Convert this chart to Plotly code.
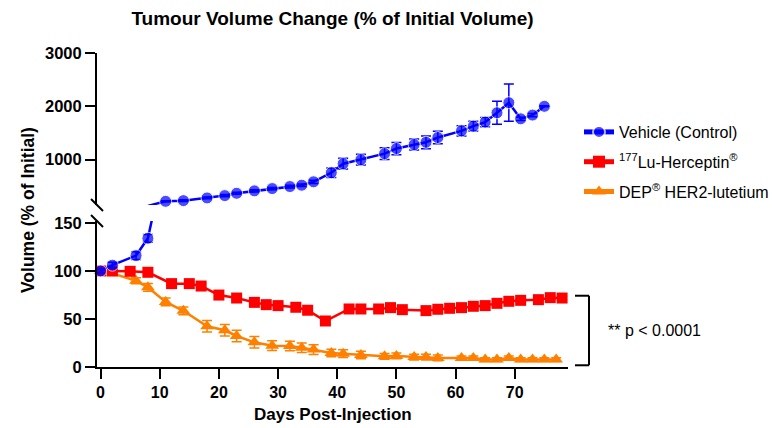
import plotly.graph_objects as go

# ---------------- data ----------------
days_vehicle = [0, 2, 6, 8, 11, 14, 18, 21, 23, 26, 29, 32, 34, 36, 39, 41, 44, 48, 50,
                53, 55, 57, 61, 63, 65, 67, 69, 71, 73, 75]
vehicle = [100, 106, 116, 134, 219, 232, 283, 326, 370, 415, 458, 496, 521, 585, 755,
           925, 1000, 1113, 1208, 1283, 1326, 1415, 1540, 1628, 1704, 1879, 2068, 1766,
           1836, 2000]
vehicle_err = [2, 3, 4, 4, 10, 15, 15, 20, 20, 20, 20, 25, 25, 30, 90, 100, 100, 110,
               115, 104, 120, 116, 95, 91, 88, 215, 350, 30, 30, 10]

days_lu = [0, 2, 5, 8, 12, 15, 17, 20, 23, 26, 28, 30, 33, 35, 38, 42, 44, 47, 49, 51,
           55, 57, 59, 61, 63, 65, 67, 69, 71, 74, 76, 78]
lu_herceptin = [100, 100, 99.6, 98.6, 86.8, 86.8, 84.3, 74.9, 71.8, 67.3, 64.9, 63.9,
                62.2, 59.1, 47.9, 60.4, 60.4, 60.4, 61.8, 59.7, 58.7, 60.1, 61.1, 61.8,
                63.2, 63.9, 66.3, 68.4, 69.4, 70.1, 72.2, 71.8]
lu_err = [0, 2, 2, 2, 2, 2, 2, 2, 2, 2, 2, 2, 2, 2, 3, 2, 2, 2, 2, 2, 2, 2, 2, 2, 2, 2,
          2, 2, 2, 2, 2, 2]

days_dep = [0, 2, 6, 8, 11, 14, 18, 21, 23, 26, 29, 32, 34, 36, 39, 41, 44, 48, 50, 53,
            55, 57, 61, 63, 65, 67, 69, 71, 73, 75, 77]
dep_her2 = [100, 97.5, 89.8, 82.9, 67.8, 58.5, 42.4, 38.2, 32.3, 25.7, 22.2, 21.9, 20.1,
            18.1, 14.6, 13.9, 12.5, 11.1, 11.5, 10.4, 10.4, 9.4, 9.4, 9.4, 7.7, 7.7, 9.4,
            7.7, 7.7, 7.7, 7.7]
dep_err = [0, 2, 3, 4, 4, 4, 6, 6, 6, 6, 5, 5, 5, 5, 4, 4, 4, 3, 3, 3, 3, 3, 2, 2, 2, 2,
           2, 2, 2, 2, 2]

series_names = ["Vehicle (Control)",
                "<sup>177</sup>Lu-Herceptin<sup>®</sup>",
                "DEP<sup>®</sup> HER2-lutetium"]
x_ticks = [0, 10, 20, 30, 40, 50, 60, 70]
lower_ticks = [0, 50, 100, 150]
upper_ticks = [1000, 2000, 3000]
x_range = [-0.6, 79]
lower_range = [0, 152]
upper_range = [150, 3000]
break_value = 150
p_text = "** p < 0.0001"

# ---------------- styling / geometry ----------------
BLUE, RED, ORANGE = "#0000FF", "#FF0000", "#FF8000"
FONT = "Liberation Sans, Arial, sans-serif"
W, H = 772, 428
L, R, T, B = 97, 204, 53, 61
PW, PH = W - L - R, H - T - B
lower_dom = [0, (H - B - 221) / PH]
upper_dom = [(H - B - 205) / PH, 1]

fig = go.Figure()

def err_style(color, arr):
    return dict(type="data", array=arr, visible=True, color=color, thickness=1.5, width=5)

# DEP HER2-lutetium (drawn first, under the others)
fig.add_trace(go.Scatter(
    x=days_dep, y=dep_her2, mode="lines+markers", name=series_names[2],
    line=dict(color=ORANGE, width=2.5),
    marker=dict(symbol="triangle-up", size=12, color=ORANGE),
    error_y=err_style(ORANGE, dep_err), cliponaxis=False,
    xaxis="x", yaxis="y", legendrank=3, legendgroup="c"))

# 177Lu-Herceptin
fig.add_trace(go.Scatter(
    x=days_lu, y=lu_herceptin, mode="lines+markers", name=series_names[1],
    line=dict(color=RED, width=2.5),
    marker=dict(symbol="square", size=11, color=RED),
    error_y=err_style(RED, lu_err), cliponaxis=False,
    xaxis="x", yaxis="y", legendrank=2, legendgroup="b"))

# Vehicle split over the broken axis
n_low = sum(1 for v in vehicle if v <= break_value)
low_idx = list(range(n_low + 1))
up_idx = list(range(n_low - 1, len(vehicle)))

fig.add_trace(go.Scatter(
    x=[days_vehicle[i] for i in low_idx], y=[vehicle[i] for i in low_idx],
    mode="lines+markers", name=series_names[0],
    line=dict(color=BLUE, width=2.5),
    marker=dict(symbol="circle", color=BLUE,
                size=[12 if vehicle[i] <= break_value else 0 for i in low_idx]),
    error_y=err_style(BLUE, [vehicle_err[i] if vehicle[i] <= break_value else None
                             for i in low_idx]),
    cliponaxis=False, xaxis="x", yaxis="y", legendrank=1, legendgroup="a",
    showlegend=True))

fig.add_trace(go.Scatter(
    x=[days_vehicle[i] for i in up_idx], y=[vehicle[i] for i in up_idx],
    mode="lines+markers", name=series_names[0],
    line=dict(color=BLUE, width=2.5),
    marker=dict(symbol="circle", color=BLUE,
                size=[12 if vehicle[i] > break_value else 0 for i in up_idx]),
    error_y=err_style(BLUE, [vehicle_err[i] if vehicle[i] > break_value else None
                             for i in up_idx]),
    cliponaxis=False, xaxis="x", yaxis="y2", legendgroup="a", showlegend=False))

tickfont = dict(family=FONT, size=16.5, color="black", weight="bold")
axis_common = dict(showline=True, linewidth=2, linecolor="black", ticks="outside",
                   ticklen=10, tickwidth=2, tickcolor="black", showgrid=False,
                   zeroline=False, tickfont=tickfont)

fig.update_layout(
    width=W, height=H,
    margin=dict(l=L, r=R, t=T, b=B, autoexpand=False),
    paper_bgcolor="white", plot_bgcolor="white",
    font=dict(family=FONT, color="black"),
    title=dict(text="Tumour Volume Change (% of Initial Volume)",
               font=dict(family=FONT, size=19, color="black", weight="bold"),
               x=0.5, xref="paper", xanchor="center",
               y=1 - 18 / H, yref="container", yanchor="middle"),
    xaxis=dict(domain=[0, 1], range=x_range, tickvals=x_ticks, anchor="y",
               **dict(axis_common, tickfont=dict(tickfont, size=16))),
    yaxis=dict(domain=lower_dom, range=lower_range, tickvals=lower_ticks, anchor="x",
               **axis_common),
    yaxis2=dict(domain=upper_dom, range=upper_range, tickvals=upper_ticks, anchor="x",
                **axis_common),
    legend=dict(x=(579 - L) / PW, xanchor="left", y=(H - B - 115) / PH, yanchor="top",
                font=dict(family=FONT, size=16, color="black"),
                traceorder="grouped", tracegroupgap=6, itemsizing="constant",
                bgcolor="rgba(0,0,0,0)", borderwidth=0),
    showlegend=True,
)

# axis titles
fig.add_annotation(text="Days Post-Injection", xref="paper", yref="paper",
                   x=0.5, y=(H - B - 414) / PH, xanchor="center", yanchor="middle",
                   showarrow=False,
                   font=dict(family=FONT, size=17, color="black", weight="bold"))
fig.add_annotation(text="Volume (% of Initial)", xref="paper", yref="paper",
                   x=(28 - L) / PW, y=(H - B - 210) / PH, xanchor="center",
                   yanchor="middle", textangle=-90, showarrow=False,
                   font=dict(family=FONT, size=17.5, color="black", weight="bold"))

# axis break marks
dx, dy = 6 / PW, 6 / PH
for yc in (upper_dom[0], lower_dom[1]):
    fig.add_shape(type="line", xref="paper", yref="paper",
                  x0=-dx, y0=yc + dy, x1=dx, y1=yc - dy,
                  line=dict(color="black", width=2))

# significance bracket
top = (max(lu_herceptin[-3:]) + 2) / lower_range[1]
bot = 1.8 / lower_range[1]
xl, xr = (575 - L) / PW, (589 - L) / PW
for (a, b, c, d) in [(xl, top, xr, top), (xr, top, xr, bot), (xl, bot, xr, bot)]:
    fig.add_shape(type="line", xref="x domain", yref="y domain",
                  x0=a, y0=b, x1=c, y1=d, line=dict(color="black", width=2))
fig.add_annotation(text=p_text, xref="x domain", yref="y domain",
                   x=(606 - L) / PW, y=(top + bot) / 2, xanchor="left",
                   yanchor="middle", showarrow=False,
                   font=dict(family=FONT, size=16, color="black"))

fig.write_html("out.html",
               config={"displayModeBar": False, "staticPlot": True},
               post_script="document.body.style.margin='0px';"
                           "document.body.style.overflow='hidden';")
